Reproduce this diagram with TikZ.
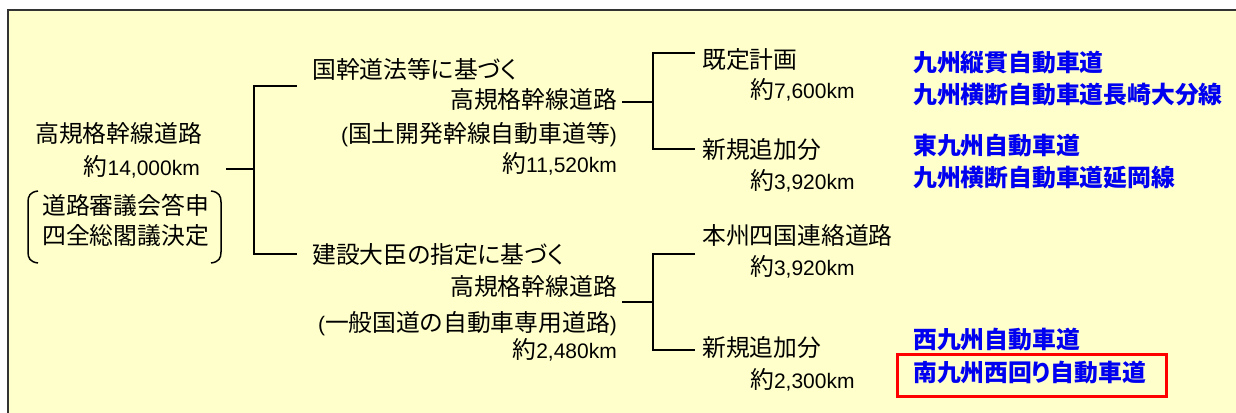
\documentclass[tikz,border=0pt]{standalone}
\usepackage{fontspec}
\setmainfont[RawFeature=+palt]{Noto Sans CJK JP}
\newfontfamily\latf{Liberation Sans}
\newcommand\lat[1]{{\latf\fontsize{21pt}{24pt}\selectfont #1}}
\definecolor{bgyellow}{HTML}{FFFFCC}
\definecolor{framegray}{HTML}{333333}
\definecolor{roadblue}{HTML}{0000F0}
\tikzset{
  txt/.style={inner sep=0pt, text height=17pt, text depth=4pt, font=\fontsize{23.8pt}{26pt}\selectfont, text=black},
  bluetxt/.style={txt, text=roadblue, font=\fontsize{23.8pt}{26pt}\selectfont\bfseries},
  conn/.style={line width=1.8pt, black},
  brk/.style={line width=1.5pt, black},
  redbox/.style={draw=red, line width=3pt}
}
\begin{document}
\begin{tikzpicture}[x=1pt,y=-1pt]
\useasboundingbox (0,0) rectangle (1236,412);
\clip (0,0) rectangle (1236,412);
\fill[bgyellow] (8,10) rectangle (1240,416);
\draw[framegray, line width=1.6pt] (1240,10) -- (8,10) -- (8,416);

% root
\node[txt, anchor=west] (r1) at (35,136) {高規格幹線道路};
\node[txt, anchor=east] (r2) at (200,169) {約\lat{14,000km}};
\node[txt, anchor=west] (r3) at (42,208) {道路審議会答申};
\node[txt, anchor=west] (r4) at (42,238) {四全総閣議決定};
\draw[brk] (38,191) .. controls (30,192) and (28,196) .. (28,202) -- (28,252) .. controls (28,258) and (30,262) .. (38,263);
\draw[brk] (211,191) .. controls (219,192) and (221,196) .. (221,202) -- (221,252) .. controls (221,258) and (219,262) .. (211,263);

% level 2
\node[txt, anchor=west] (a1) at (312,72) {国幹道法等に基づく};
\node[txt, anchor=east] (a2) at (617,102) {高規格幹線道路};
\node[txt, anchor=east] (a3) at (617,136) {\lat{(}国土開発幹線自動車道等\lat{)}};
\node[txt, anchor=east] (a4) at (617,166) {約\lat{11,520km}};
\node[txt, anchor=west] (b1) at (312,257) {建設大臣の指定に基づく};
\node[txt, anchor=east] (b2) at (617,289) {高規格幹線道路};
\node[txt, anchor=east] (b3) at (617,325) {\lat{(}一般国道の自動車専用道路\lat{)}};
\node[txt, anchor=east] (b4) at (617,352) {約\lat{2,480km}};

% level 3
\node[txt, anchor=west] (c1) at (702,62) {既定計画};
\node[txt, anchor=west] (c2) at (750,92) {約\lat{7,600km}};
\node[txt, anchor=west] (d1) at (702,152) {新規追加分};
\node[txt, anchor=west] (d2) at (750,183) {約\lat{3,920km}};
\node[txt, anchor=west] (e1) at (702,238) {本州四国連絡道路};
\node[txt, anchor=west] (e2) at (750,269) {約\lat{3,920km}};
\node[txt, anchor=west] (f1) at (702,350) {新規追加分};
\node[txt, anchor=west] (f2) at (750,382) {約\lat{2,300km}};

% blue road names
\node[bluetxt, anchor=west] (g1) at (913,65) {九州縦貫自動車道};
\node[bluetxt, anchor=west] (g2) at (913,97) {九州横断自動車道長崎大分線};
\node[bluetxt, anchor=west] (h1) at (913,148) {東九州自動車道};
\node[bluetxt, anchor=west] (h2) at (913,180) {九州横断自動車道延岡線};
\node[bluetxt, anchor=west] (i1) at (913,342) {西九州自動車道};
\node[bluetxt, anchor=west] (i2) at (913,375) {南九州西回り自動車道};
\draw[redbox] (897,354) rectangle (1166,396);

% connector coordinates
\coordinate (s0) at (226,169);
\coordinate (j0) at (254,169);
\coordinate (j0t) at (254,86);
\coordinate (j0b) at (254,254);
\coordinate (t0a) at (297,86);
\coordinate (t0b) at (297,254);
\coordinate (s1) at (622,102);
\coordinate (j1) at (653,102);
\coordinate (j1t) at (653,53);
\coordinate (j1b) at (653,149);
\coordinate (t1a) at (695,53);
\coordinate (t1b) at (695,149);
\coordinate (s2) at (622,302);
\coordinate (j2) at (653,302);
\coordinate (j2t) at (653,254);
\coordinate (j2b) at (653,350);
\coordinate (t2a) at (695,254);
\coordinate (t2b) at (695,350);

\draw[conn] (s0) -- (j0);
\draw[conn] (t0a) -- (j0t) -- (j0b) -- (t0b);
\draw[conn] (s1) -- (j1);
\draw[conn] (t1a) -- (j1t) -- (j1b) -- (t1b);
\draw[conn] (s2) -- (j2);
\draw[conn] (t2a) -- (j2t) -- (j2b) -- (t2b);
\end{tikzpicture}
\end{document}
